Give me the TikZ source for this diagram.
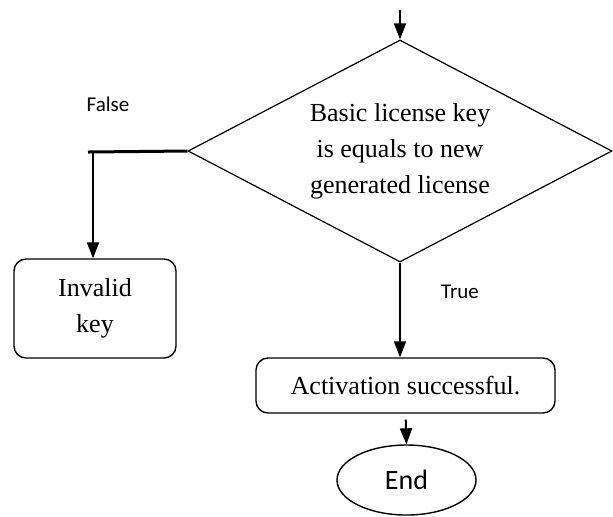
\documentclass[tikz,border=0pt]{standalone}
\usepackage{fontspec}
\setmainfont{Liberation Serif}
\newfontfamily\labelfont{Carlito}
\usetikzlibrary{shapes.geometric,arrows.meta}
\definecolor{flowline}{RGB}{0,0,0}

\begin{document}
\begin{tikzpicture}[x=0.5pt, y=-0.5pt,
  decision/.style={draw=flowline, diamond, aspect=1.9, inner sep=0pt, line width=0.6pt,
    minimum width=212pt, minimum height=111pt, align=center,
    font=\fontsize{13}{18}\selectfont},
  stepbox/.style={draw=flowline, rectangle, rounded corners=6pt, line width=0.7pt,
    align=center, font=\fontsize{13}{18}\selectfont},
  terminal/.style={draw=flowline, ellipse, line width=0.7pt, inner sep=0pt,
    minimum width=69.5pt, minimum height=35pt, font=\labelfont\fontsize{14}{16}\selectfont},
  branch/.style={font=\labelfont\fontsize{10.5}{12}\selectfont},
  arr/.style={-{Triangle[width=6pt,length=8pt]}, line width=1pt, flowline}]
\useasboundingbox (0,0) rectangle (613,516);
\coordinate (in) at (400,10);
\node[decision] (dec) at (400,151) {Basic license key\\is equals to new\\generated license};
\node[stepbox, minimum width=81pt, minimum height=49.5pt] (invalid) at (95,308.5) {Invalid\\key};
\node[stepbox, minimum width=149.5pt, minimum height=27.5pt] (act) at (405.5,385.5) {Activation successful.};
\node[terminal] (end) at (406.5,480) {End};
\node[branch] (false) at (108,104) {False};
\node[branch] (true) at (460,292) {True};
\coordinate (turn) at (88,152);
\coordinate (drop) at (93,152);
\draw[arr] (in) -- (dec.north);
\draw[line width=1.5pt] (dec.west) -- (turn);
\draw[arr] (drop) -- (drop |- invalid.north);
\draw[arr] (dec.south) -- (dec.south |- act.north);
\draw[arr, shorten <=3pt] (act.south) -- (end.north);
\end{tikzpicture}
\end{document}
